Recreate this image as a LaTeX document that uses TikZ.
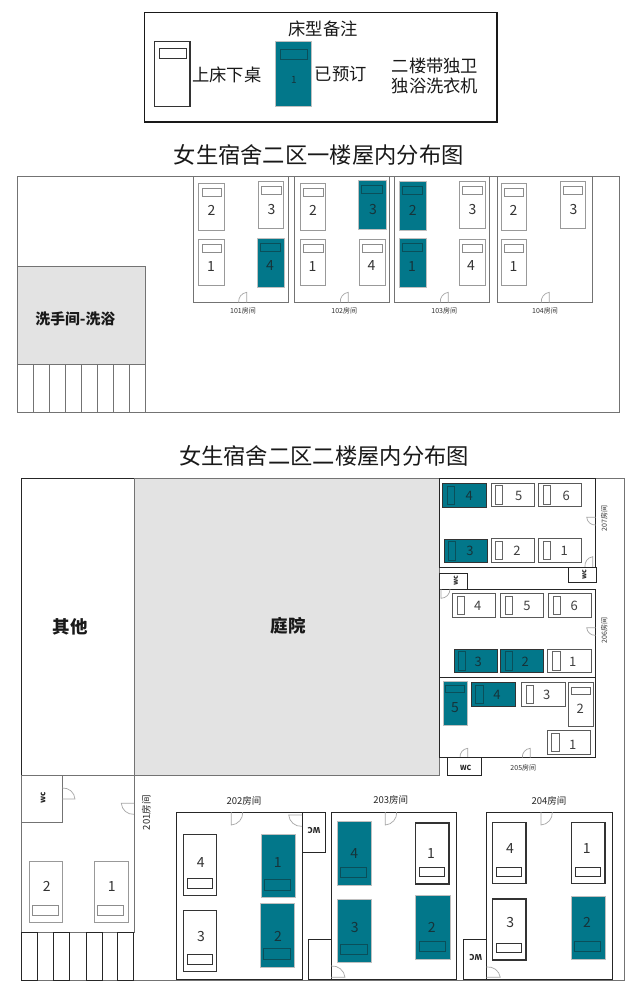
\documentclass[tikz,border=0pt]{standalone}
\usepackage{fontspec}
\setmainfont{Noto Sans CJK SC}
\definecolor{tealbed}{HTML}{02778A}
\definecolor{tealline}{HTML}{0A4F5A}
\definecolor{tealtext}{HTML}{16343A}
\definecolor{yardgrey}{HTML}{E3E3E3}
\tikzset{
  wallblack/.style = {draw=black!85, line width=0.9pt},
  wallgrey/.style = {draw=black!55, line width=0.9pt},
  bedgrey/.style = {draw=black!40, fill=white, line width=0.9pt},
  beddark/.style = {draw=black!80, fill=white, line width=1.1pt},
  bedthin/.style = {draw=black!65, fill=white, line width=0.9pt},
  bedteal/.style = {draw=black!25, fill=tealbed, line width=0.5pt},
  bedtealdk/.style = {draw=black!80, fill=tealbed, line width=0.9pt},
  pillowgrey/.style = {draw=black!45, fill=white, line width=0.8pt},
  pillowdark/.style = {draw=black!80, fill=white, line width=1pt},
  pillowthin/.style = {draw=black!60, fill=white, line width=0.9pt},
  pillowteal/.style = {draw=tealline, fill=tealbed, line width=0.7pt},
  pillowtealdk/.style = {draw=tealline, fill=tealbed, line width=0.7pt},
  numbergrey/.style = {text=black!80, font=\fontsize{14}{14}\selectfont, inner sep=0pt},
  numberdark/.style = {numbergrey},
  numberthin/.style = {text=black!75, font=\fontsize{13}{13}\selectfont, inner sep=0pt},
  numberteal/.style = {text=tealtext, font=\fontsize{14}{14}\selectfont, inner sep=0pt},
  numbertealdk/.style = {numberteal, font=\fontsize{13}{13}\selectfont},
  door/.style = {draw=black!35, line width=0.7pt},
  titletext/.style = {font=\fontsize{22.3}{23}\selectfont, text=black!90, inner sep=0pt},
  legendtext/.style = {font=\fontsize{17.3}{20}\selectfont, text=black!90, inner sep=0pt, align=center},
  halltext/.style = {font=\fontsize{17.5}{18}\selectfont\bfseries, text=black!90, inner sep=0pt},
  roomtext/.style = {font=\fontsize{7}{8}\selectfont, text=black!80, inner sep=0pt},
  bigroomtext/.style = {font=\fontsize{9.5}{10}\selectfont, text=black!85, inner sep=0pt},
  wctext/.style = {font=\fontsize{8}{8}\selectfont\bfseries, text=black!85, inner sep=0pt},
}
% #1 look, #2 name, #3 #4 bed corners, #5 #6 pillow corners, #7 number position, #8 number
\newcommand{\bed}[8][grey]{
  \draw[bed#1] (#3) rectangle (#4);
  \draw[pillow#1] (#5) rectangle (#6);
  \node[number#1] (#2) at (#7) {#8};
}
\begin{document}
\begin{tikzpicture}[x=1pt, y=-1pt]
\useasboundingbox (0,0) rectangle (637,1000);
\fill[white] (0,0) rectangle (637,1000);

% legend
\draw[draw=black!90, line width=1.3pt] (144.7,12.7) rectangle (497,122);
\node[legendtext] (legendhead) at (323,29) {床型备注};
\bed[dark]{legendfree}{154.7,41.7}{190,106.7}{159,49}{186,59}{172,80}{}
\bed[teal]{legendtaken}{275.7,41.7}{311.7,106.7}{280,49}{307.7,59.6}{294,80}{\fontsize{10}{10}\selectfont 1}
\node[legendtext] (legendbunk) at (226.7,75) {上床下桌};
\node[legendtext] (legendbooked) at (340.7,74) {已预订};
\node[legendtext, text width=100pt] (legendnote) at (435,76) {二楼带独卫\\独浴洗衣机};

% first floor
\node[titletext] (titleone) at (318.7,155) {女生宿舍二区一楼屋内分布图};
\draw[wallgrey] (17,176) rectangle (619.5,412);
\draw[wallgrey, fill=yardgrey] (17,266.7) rectangle (145.7,364.3);
\node[font=\fontsize{14.8}{15}\selectfont\bfseries, text=black!90, inner sep=0pt] (wash) at (75.3,318.7) {洗手间-洗浴};
\draw[wallgrey] (33,364.3) -- (33,412) (49,364.3) -- (49,412) (65,364.3) -- (65,412) (81.7,364.3) -- (81.7,412)
  (97.7,364.3) -- (97.7,412) (113,364.3) -- (113,412) (129,364.3) -- (129,412) (145.7,364.3) -- (145.7,412);
\draw[wallgrey] (193.3,176) rectangle (288.7,302.7);
\draw[wallgrey] (294.7,176) rectangle (389.7,302.7);
\draw[wallgrey] (394,176) rectangle (489.3,302.7);
\draw[wallgrey] (497.7,176) rectangle (592.3,302.7);
\draw[door] (246.7,302.7) -- (246.7,292.3) to[bend right=45] (238.7,302.7);
\draw[door] (348.3,302.7) -- (348.3,292.3) to[bend right=45] (340.3,302.7);
\draw[door] (448.3,302.7) -- (448.3,292.3) to[bend right=45] (440.3,302.7);
\draw[door] (549.3,302.7) -- (549.3,292.3) to[bend right=45] (541.3,302.7);
\node[roomtext] (room101) at (243,311) {101房间};
\node[roomtext] (room102) at (344.3,311) {102房间};
\node[roomtext] (room103) at (444.3,311) {103房间};
\node[roomtext] (room104) at (545,311) {104房间};
\bed{b101two}{198.7,183.3}{224.3,230}{202,188.3}{221.7,196.7}{211.5,210}{2}
\bed{b101three}{258.3,181.3}{283.7,228}{261.3,186.3}{281,194.7}{271.5,210}{3}
\bed{b101one}{198.7,239.3}{224.3,285.7}{202,244.3}{221.7,252.3}{211,267}{1}
\bed[teal]{b101four}{257.3,238}{284,287}{260.5,243}{280.7,251}{270,266}{4}
\bed{b102two}{300,183.3}{325.7,230}{303.3,188.3}{323,196.7}{313,210}{2}
\bed[teal]{b102three}{358.7,180.7}{386,229.7}{361.7,185.7}{382.7,193.7}{373,210}{3}
\bed{b102one}{300,239.3}{325.7,285.7}{303.3,244.3}{323,252.3}{312.5,267}{1}
\bed{b102four}{359.3,239}{385.3,285.7}{362.7,244.3}{382.3,252.3}{371.5,266}{4}
\bed[teal]{b103two}{399.3,181.7}{426,230.3}{402.3,186.3}{422.7,194.3}{412.7,210}{2}
\bed{b103three}{459.3,181.3}{485,228}{462.3,186.3}{482,194.7}{472.5,210}{3}
\bed[teal]{b103one}{399.3,238.3}{426,287.3}{402.3,243.3}{422.7,251.3}{412,267}{1}
\bed{b103four}{459.3,239}{485,285.7}{462.3,244.3}{482,252.3}{471,266}{4}
\bed{b104two}{501,183.3}{526.7,230}{504,188.3}{523.7,196.7}{513.5,210}{2}
\bed{b104three}{560,181.3}{585.7,228}{563.3,186.3}{582.7,194.7}{573.5,210}{3}
\bed{b104one}{501,239}{526.7,285.7}{504,244.3}{523.7,252.3}{513.5,267}{1}

% second floor
\node[titletext] (titletwo) at (324,456) {女生宿舍二区二楼屋内分布图};
\draw[wallgrey] (21.7,478) rectangle (624.3,980);
\draw[wallblack] (21.7,478) rectangle (134,775);
\draw[wallgrey, fill=yardgrey] (134,478) rectangle (439.4,775);
\node[halltext] (other) at (70,627) {其他};
\node[halltext] (yard) at (288,626) {庭院};

% room 201
\draw[wallgrey] (21.7,775) rectangle (134,932.3);
\draw[wallgrey] (21.7,775) rectangle (62.3,822.7);
\node[wctext, rotate=90] (wc201) at (43,797.7) {wc};
\draw[door] (62.3,799) -- (75,799) to[bend right=45] (62.3,788);
\draw[door] (134,803.3) -- (121.3,803.3) to[bend right=45] (134,814.3);
\node[bigroomtext, rotate=90] (room201) at (146.3,812.7) {201房间};
\bed{b201two}{29,861.3}{62.7,922}{32.7,905}{58.7,915}{46.7,886}{2}
\bed{b201one}{94,861.3}{128,922}{97.7,905}{123.7,915}{111.7,886}{1}
\draw[wallblack] (21.7,932.3) rectangle (37.3,980);
\draw[wallblack] (53.7,932.3) rectangle (69.7,980);
\draw[wallblack] (86.3,932.3) rectangle (102.3,980);
\draw[wallblack] (117.3,932.3) rectangle (133.3,980);

% room 202
\draw[wallblack] (176.7,812) rectangle (302,979.5);
\draw[wallblack] (302,812) rectangle (325,852.3);
\draw[wallblack] (308.3,939.3) rectangle (331,979.5);
\node[wctext, rotate=180] (wc202) at (314,830.3) {WC};
\draw[door] (231.3,812) -- (231.3,825) to[bend right=45] (242.7,812);
\draw[door] (302,815) -- (288.7,815) to[bend right=45] (302,826.3);
\node[bigroomtext] (room202) at (244,801) {202房间};
\bed[dark]{b202four}{183.3,834.3}{216.7,895.3}{187,878.7}{212.3,888}{200.7,862.3}{4}
\bed[dark]{b202three}{183.3,910.3}{216.7,971.3}{187,954.7}{212.3,964}{201,936}{3}
\bed[teal]{b202one}{261,834.3}{295.3,897.7}{264.3,879.7}{290.7,890.3}{277.7,862}{1}
\bed[teal]{b202two}{260.3,903.3}{294.7,967}{263.7,948.7}{290,959.7}{278,936}{2}

% room 203
\draw[wallblack] (331,812) rectangle (456,979.5);
\draw[door] (385.3,812) -- (385.3,825) to[bend right=45] (396.7,812);
\draw[door] (331,966) to[bend left=45] (345,977.3) -- (331,977.3);
\node[bigroomtext] (room203) at (390.7,800.3) {203房间};
\bed[teal]{b203four}{337,821.7}{371,885}{340.3,867.3}{366.7,877.7}{354.3,853.3}{4}
\bed[teal]{b203three}{337.3,899}{371.7,962.3}{340.7,944.3}{367.3,954.7}{354.7,927}{3}
\bed[dark]{b203one}{415.7,823}{449,884}{419.3,867}{444.7,876.7}{431,853.3}{1}
\bed[teal]{b203two}{415.7,895.7}{450,959.3}{419.3,941.3}{445.7,951.7}{431.7,927}{2}

% room 204
\draw[wallblack] (463.7,939.7) rectangle (486.3,979.5);
\node[wctext, rotate=180] (wc204) at (475.7,957.3) {WC};
\draw[wallblack] (486.3,812) rectangle (612,979.5);
\draw[door] (541,812) -- (541,825) to[bend right=45] (552.3,812);
\draw[door] (486.3,967) to[bend left=45] (500.3,977.3) -- (486.3,977.3);
\node[bigroomtext] (room204) at (549,801) {204房间};
\bed[dark]{b204four}{492.7,822.7}{526,883.7}{496.3,867}{521.7,876.3}{510,848.7}{4}
\bed[dark]{b204one}{571.3,822.7}{605,883.7}{575.3,867}{600.3,876.3}{586.7,848.7}{1}
\bed[dark]{b204three}{492.7,899}{526,960}{496.3,943.3}{521.7,952.7}{510.3,922.3}{3}
\bed[teal]{b204two}{571,896}{605.3,959.3}{574.3,941.3}{600.7,951.7}{587,922.3}{2}

% room 207
\draw[wallblack] (439.4,478) rectangle (595.7,567);
\draw[door] (595.7,517.3) -- (586.7,517.3) to[bend right=45] (595.7,525);
\draw[door] (592.7,567) -- (592.7,556.7) to[bend right=45] (585,567);
\node[roomtext, rotate=90] (room207) at (604.3,518.3) {207房间};
\draw[wallblack] (568,567) rectangle (596,582.7);
\node[wctext, font=\fontsize{7}{7}\selectfont\bfseries, rotate=90] (wc207) at (584.3,575) {wc};
\bed[tealdk]{b207four}{442.7,483.7}{486,507}{447,486}{454,504.7}{469.3,495.7}{4}
\bed[thin]{b207five}{491,483}{534,506.7}{495.7,485.7}{502.7,504}{518.7,495.7}{5}
\bed[thin]{b207six}{538.3,483}{581.7,506.7}{543.3,485.7}{550.3,504}{566.3,495.7}{6}
\bed[tealdk]{b207three}{444,539}{487.3,562.7}{448.3,541.7}{455.7,560}{470,551.3}{3}
\bed[thin]{b207two}{491,538.7}{534,562.3}{495.7,541.3}{502.7,559.7}{517,551}{2}
\bed[thin]{b207one}{538.3,538.7}{581.7,562.3}{543.3,541.3}{550.3,559.7}{564.3,551}{1}

% room 206
\draw[wallblack] (439.4,573) rectangle (467.7,589);
\node[wctext, font=\fontsize{7}{7}\selectfont\bfseries, rotate=90] (wc206) at (456,581) {wc};
\draw[wallblack] (439.4,589) rectangle (595.7,677.3);
\draw[door] (441,589) -- (441,598.3) to[bend right=45] (450,589);
\draw[door] (595.7,627.8) -- (586.7,627.8) to[bend right=45] (595.7,635.3);
\node[roomtext, rotate=90] (room206) at (604.3,630.5) {206房间};
\bed[thin]{b206four}{452.3,593.3}{495.7,617.3}{457.3,596}{464.7,614.7}{477.7,606}{4}
\bed[thin]{b206five}{500.3,593.3}{543.7,617.3}{505.3,596}{512.7,614.7}{527,606}{5}
\bed[thin]{b206six}{548.3,593.3}{591.3,617.3}{553,596}{560.3,614.7}{574.3,606}{6}
\bed[tealdk]{b206three}{454,649}{497,672.7}{458,651.7}{465,670}{478.3,661.7}{3}
\bed[tealdk]{b206two}{500.3,649}{543.3,672.7}{505.3,651.7}{512.7,670}{525.3,661.7}{2}
\bed[thin]{b206one}{547.7,649}{591,672.7}{552.7,651.7}{560,670}{572.7,661.7}{1}

% room 205
\draw[wallblack] (439.4,677.3) rectangle (595.7,757.7);
\draw[door] (467.7,757.7) -- (467.7,748.3) to[bend right=45] (460,757.7);
\draw[door] (530.3,757.7) -- (530.3,748.3) to[bend right=45] (522.3,757.7);
\draw[wallblack] (447.3,757.7) rectangle (481.7,775.3);
\node[wctext, font=\fontsize{7}{7}\selectfont\bfseries] (wc205) at (465.7,768) {WC};
\node[roomtext] (room205) at (523.3,767.7) {205房间};
\bed[teal]{b205five}{443.3,681}{467.3,725}{445.7,685}{464.3,692.7}{455,708}{5}
\bed[tealdk]{b205four}{471.3,682.3}{515,706}{475.7,685}{483,703.3}{497,694.7}{4}
\bed[thin]{b205three}{521.3,682}{565,706}{526.3,685}{533.7,703.3}{546.7,694.7}{3}
\bed[thin]{b205two}{568.7,682.3}{593,726}{571.3,687.7}{590,694.7}{580.3,709}{2}
\bed[thin]{b205one}{547,730.3}{590.7,754.3}{551.7,733.3}{559,751.3}{572.7,745}{1}
\end{tikzpicture}
\end{document}
